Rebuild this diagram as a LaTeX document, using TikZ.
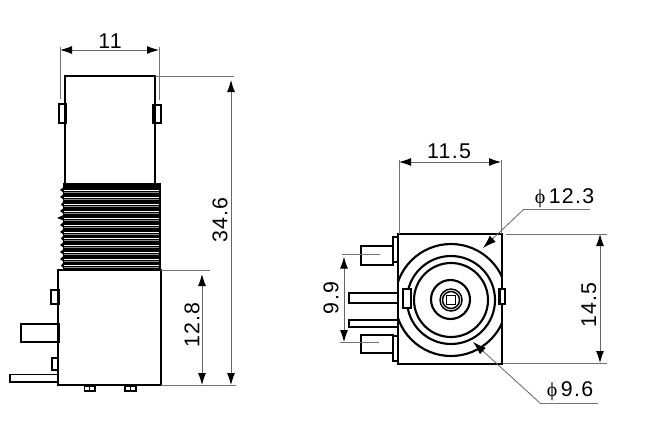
\documentclass[tikz,border=0pt]{standalone}
\usepackage{fontspec}
\setmainfont[LetterSpace=6]{Liberation Sans}
\newfontfamily\phifont{Liberation Serif}
\usetikzlibrary{arrows.meta,positioning}
\newcommand{\diam}{{\phifont\fontsize{15}{16}\selectfont ϕ}}
\tikzset{
    outline/.style={draw=black, line width=1.6pt},
    thinout/.style={draw=black, line width=1.1pt},
    extline/.style={draw=black!55, line width=0.6pt},
    dimline/.style={draw=black!60, line width=0.7pt, {Latex[length=9pt,width=6pt,black]}-{Latex[length=9pt,width=6pt,black]}},
    leader/.style={draw=black!60, line width=0.6pt, -{Latex[length=10pt,width=6.5pt,black]}},
    dimlabel/.style={inner sep=0pt, font=\fontsize{16}{18}\selectfont},
}
\begin{document}
\begin{tikzpicture}[x=0.75pt,y=-0.75pt]
    \useasboundingbox (0,0) rectangle (645,425);

    %% Side view: barrel
    \draw[outline] (65,184) -- (65,76) -- (155,76) -- (155,184);
    \draw[thinout] (59,104) rectangle (66,123);
    \draw[outline] (153,105) rectangle (161,123);

    %% Thread
    \fill[black] (63,183) rectangle (161,270);
    \foreach \ry/\rx in {190/60,197/60,204.5/61,211/60,218/57,225/60,232/60,238.5/61,245/60,252/60,259/60,265.5/61} {
        \draw[white, line width=0.7pt] (64,\ry) -- (159,\ry);
        \draw[black!45, line width=0.5pt] (64,\ry+2) -- (159,\ry+2);
        \fill[black] (63.5,\ry-3) -- (\rx,\ry) -- (63.5,\ry+2.5) -- cycle;
    }

    %% Side view: lower body and pins
    \draw[outline] (58,270) rectangle (161,385);
    \draw[thinout] (51,290) rectangle (59,304);
    \draw[outline] (21,324) rectangle (59,342);
    \draw[thinout] (52,358) rectangle (58,370);
    \draw[thinout] (10,374.5) rectangle (58,382);
    \draw[thinout] (84.5,386) rectangle (95,391);
    \draw[thinout] (125,386) rectangle (136,391);
    \draw[thinout] (89.5,386) -- (89.5,391);
    \draw[thinout] (130.5,386) -- (130.5,391);

    %% Dimensions of the side view
    \coordinate (w1) at (60,50);
    \coordinate (w2) at (159,50);
    \coordinate (h1) at (231,76);
    \coordinate (h2) at (231,385);
    \coordinate (b1) at (202,270);
    \coordinate (b2) at (202,385);
    \draw[extline] (60,47) -- (60,99);
    \draw[extline] (159,47) -- (159,100);
    \draw[extline] (155,76) -- (234,76);
    \draw[extline] (161,270) -- (210,270);
    \draw[extline] (161,385) -- (236,385);
    \draw[dimline] (w1) -- (w2);
    \draw[dimline] ([yshift=-3pt]h1) -- (h2);
    \draw[dimline] ([yshift=-3pt]b1) -- (b2);
    \node[dimlabel] (l11) at (110,41) {11};
    \node[dimlabel, rotate=90] (l346) at (220,220) {34.6};
    \node[dimlabel, rotate=90] (l128) at (192,325) {12.8};

    %% Front view: body
    \draw[outline] (398,234) rectangle (502,364);
    \begin{scope}
        \clip (398,234) rectangle (502,364);
        \draw[outline] (451,300) circle[radius=56];
    \end{scope}
    \draw[outline] (451,300) circle[radius=44];
    \draw[outline] (451,300) circle[radius=37];
    \draw[outline] (450.5,299.5) circle[radius=19.5];
    \draw[thinout] (451,300) circle[radius=11];
    \draw[thinout] (451,300) circle[radius=8.5];
    \draw[thinout] (446.5,295.5) rectangle (455.5,304.5);
    \draw[thinout, fill=white] (403,289) rectangle (411,308);
    \draw[outline, fill=white] (499.5,289) rectangle (505,304);

    %% Front view: pins
    \draw[outline] (361,246) rectangle (393,265);
    \draw[outline] (393,237) rectangle (398,262);
    \draw[thinout] (349,293) rectangle (398,303);
    \draw[thinout] (349,320) rectangle (398,327);
    \draw[outline] (361,335) rectangle (393,353);
    \draw[outline] (393,336) rectangle (398,361);

    %% Dimensions of the front view
    \coordinate (u1) at (399,162);
    \coordinate (u2) at (501,162);
    \coordinate (v1) at (600,234);
    \coordinate (v2) at (600,363);
    \coordinate (p1) at (344,254);
    \coordinate (p2) at (344,342);
    \coordinate (a1) at (524,209);
    \coordinate (a2) at (483,248);
    \coordinate (a3) at (540,403);
    \coordinate (a4) at (473,342);
    \draw[extline] (399,160) -- (399,234);
    \draw[extline] (501,160) -- (501,234);
    \draw[extline] (506,234) -- (607,234);
    \draw[extline] (503,363) -- (607,363);
    \draw[extline] (342,254) -- (380,254);
    \draw[extline] (340,342) -- (379,342);
    \draw[dimline] (u1) -- (u2);
    \draw[dimline] (v1) -- (v2);
    \draw[dimline] ([yshift=-2pt]p1) -- (p2);
    \draw[extline] (590,209) -- (a1);
    \draw[leader] (a1) -- (a2);
    \draw[extline] (598,403) -- (a3);
    \draw[leader] (a3) -- (a4);
    \node[dimlabel] (l115) at (449,151) {11.5};
    \node[dimlabel, rotate=90] (l145) at (589,305) {14.5};
    \node[dimlabel, rotate=90] (l99) at (331,298) {9.9};
    \node[dimlabel] (l123) at (564.5,198) {\diam\,12.3};
    \node[dimlabel] (l96) at (570,391) {\diam\,9.6};
\end{tikzpicture}
\end{document}
